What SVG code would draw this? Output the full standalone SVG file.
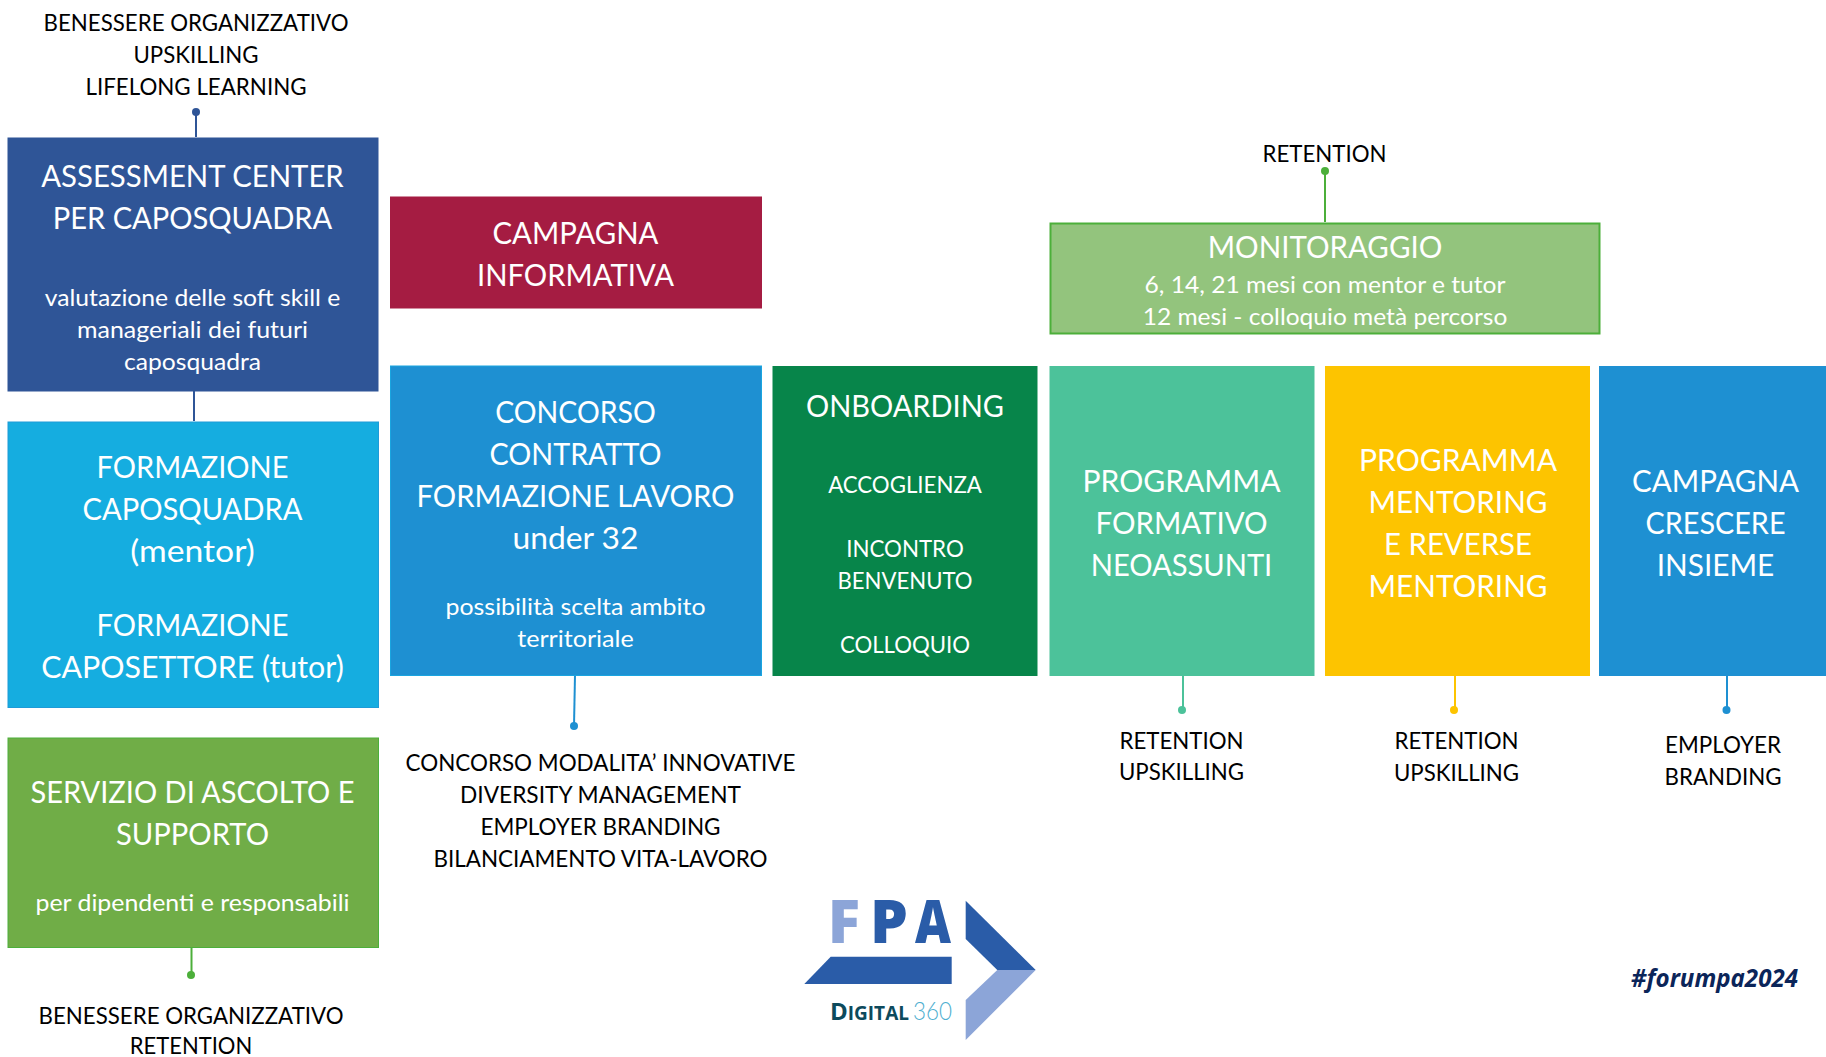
<svg xmlns="http://www.w3.org/2000/svg" width="1826" height="1057" viewBox="0 0 1826 1057">
<style>
text{font-family:Lato,"Open Sans","Liberation Sans",sans-serif;text-anchor:middle}
.h{font-size:30px;fill:#fff}
.s{font-size:24px;fill:#fff}
.k{font-size:24px;fill:#000}
.line{fill:none;stroke-width:2}
.logo{font-family:"Open Sans",sans-serif;font-weight:800;font-size:60px}
</style>
<rect width="1826" height="1057" fill="#fff"/>
<g id="connectors">
<path class="line" stroke="#2F5597" d="M196 112V137M194 391V421"/><circle cx="196" cy="112" r="4" fill="#2F5597"/>
<path class="line" stroke="#4CAF3A" d="M1325 171V222"/><circle cx="1325" cy="171" r="4" fill="#4CAF3A"/>
<path class="line" stroke="#1E90D2" d="M575 675L574 726"/><circle cx="574" cy="726" r="4" fill="#1E90D2"/>
<path class="line" stroke="#4CC29A" d="M1183 675V710"/><circle cx="1182" cy="710" r="4" fill="#4CC29A"/>
<path class="line" stroke="#FDC400" d="M1455 675V710"/><circle cx="1454" cy="710" r="4" fill="#FDC400"/>
<path class="line" stroke="#1E90D2" d="M1727 675V710"/><circle cx="1726.500" cy="710" r="4" fill="#1E90D2"/>
<path class="line" stroke="#4CAF3A" d="M191.500 948V975"/><circle cx="191" cy="975" r="4" fill="#4CAF3A"/>
</g>
<g id="note-top"><text class="k" x="196" y="31" textLength="305" lengthAdjust="spacingAndGlyphs">BENESSERE ORGANIZZATIVO</text><text class="k" x="196" y="63" textLength="125" lengthAdjust="spacingAndGlyphs">UPSKILLING</text><text class="k" x="196" y="95" textLength="221" lengthAdjust="spacingAndGlyphs">LIFELONG LEARNING</text></g>
<g id="assessment"><rect x="7.500" y="137.500" width="371" height="254" fill="#2F5597"/>
<text class="h" x="192.500" y="186.500" textLength="302.500" lengthAdjust="spacingAndGlyphs">ASSESSMENT CENTER</text><text class="h" x="192.500" y="228.500" textLength="279.600" lengthAdjust="spacingAndGlyphs">PER CAPOSQUADRA</text>
<text class="s" x="192.500" y="306" textLength="295.500" lengthAdjust="spacingAndGlyphs">valutazione delle soft skill e</text><text class="s" x="192.500" y="338" textLength="231" lengthAdjust="spacingAndGlyphs">manageriali dei futuri</text><text class="s" x="192.500" y="370" textLength="137" lengthAdjust="spacingAndGlyphs">caposquadra</text></g>
<g id="formazione"><rect x="8" y="422" width="370.500" height="285.500" fill="#15ADE0" stroke="#1E9BD8"/>
<text class="h" x="192.500" y="477.500" textLength="192" lengthAdjust="spacingAndGlyphs">FORMAZIONE</text><text class="h" x="192.500" y="519.500" textLength="220" lengthAdjust="spacingAndGlyphs">CAPOSQUADRA</text><text class="h" x="192.500" y="561.500" textLength="124.600" lengthAdjust="spacingAndGlyphs">(mentor)</text><text class="h" x="192.500" y="635.500" textLength="192" lengthAdjust="spacingAndGlyphs">FORMAZIONE</text><text class="h" x="192.500" y="677.500" textLength="302.500" lengthAdjust="spacingAndGlyphs">CAPOSETTORE (tutor)</text></g>
<g id="servizio"><rect x="8" y="738" width="370.500" height="209.500" fill="#70AD47" stroke="#4CAF3A"/>
<text class="h" x="192.500" y="803" textLength="324" lengthAdjust="spacingAndGlyphs">SERVIZIO DI ASCOLTO E</text><text class="h" x="192.500" y="845" textLength="153" lengthAdjust="spacingAndGlyphs">SUPPORTO</text><text class="s" x="192.500" y="911" textLength="314" lengthAdjust="spacingAndGlyphs">per dipendenti e responsabili</text></g>
<g id="note-servizio"><text class="k" x="191" y="1023.500" textLength="305" lengthAdjust="spacingAndGlyphs">BENESSERE ORGANIZZATIVO</text><text class="k" x="191" y="1054" textLength="122.500" lengthAdjust="spacingAndGlyphs">RETENTION</text></g>
<g id="campagna-informativa"><rect x="390" y="196.500" width="372" height="112" fill="#A51C42"/>
<text class="h" x="575.500" y="244" textLength="166" lengthAdjust="spacingAndGlyphs">CAMPAGNA</text><text class="h" x="575.500" y="286" textLength="197" lengthAdjust="spacingAndGlyphs">INFORMATIVA</text></g>
<g id="concorso"><rect x="390.500" y="366" width="371" height="309.500" fill="#1E90D2" stroke="#1AA5E0"/>
<text class="h" x="575.500" y="423" textLength="160.700" lengthAdjust="spacingAndGlyphs">CONCORSO</text><text class="h" x="575.500" y="465" textLength="172" lengthAdjust="spacingAndGlyphs">CONTRATTO</text><text class="h" x="575.500" y="507" textLength="318" lengthAdjust="spacingAndGlyphs">FORMAZIONE LAVORO</text><text class="h" x="575.500" y="548.500" textLength="126" lengthAdjust="spacingAndGlyphs">under 32</text>
<text class="s" x="575.500" y="614.500" textLength="260" lengthAdjust="spacingAndGlyphs">possibilità scelta ambito</text><text class="s" x="575.500" y="646.500" textLength="116.500" lengthAdjust="spacingAndGlyphs">territoriale</text></g>
<g id="note-concorso"><text class="k" x="600.500" y="771" textLength="390" lengthAdjust="spacingAndGlyphs">CONCORSO MODALITA’ INNOVATIVE</text><text class="k" x="600.500" y="803" textLength="281" lengthAdjust="spacingAndGlyphs">DIVERSITY MANAGEMENT</text><text class="k" x="600.500" y="835" textLength="240" lengthAdjust="spacingAndGlyphs">EMPLOYER BRANDING</text><text class="k" x="600.500" y="867" textLength="334" lengthAdjust="spacingAndGlyphs">BILANCIAMENTO VITA-LAVORO</text></g>
<g id="onboarding"><rect x="772.500" y="366" width="265" height="310" fill="#07854A"/>
<text class="h" x="905" y="416.500" textLength="198" lengthAdjust="spacingAndGlyphs">ONBOARDING</text><text class="s" x="905" y="492.500" textLength="153.700" lengthAdjust="spacingAndGlyphs">ACCOGLIENZA</text><text class="s" x="905" y="556.500" textLength="117.600" lengthAdjust="spacingAndGlyphs">INCONTRO</text><text class="s" x="905" y="588.500" textLength="135" lengthAdjust="spacingAndGlyphs">BENVENUTO</text><text class="s" x="905" y="652.500" textLength="130" lengthAdjust="spacingAndGlyphs">COLLOQUIO</text></g>
<g id="programma-formativo"><rect x="1049.500" y="366" width="265" height="310" fill="#4CC29A"/>
<text class="h" x="1181.500" y="491.500" textLength="198" lengthAdjust="spacingAndGlyphs">PROGRAMMA</text><text class="h" x="1181.500" y="533.500" textLength="172" lengthAdjust="spacingAndGlyphs">FORMATIVO</text><text class="h" x="1181.500" y="575.500" textLength="181.600" lengthAdjust="spacingAndGlyphs">NEOASSUNTI</text></g>
<g id="note-formativo"><text class="k" x="1181.500" y="748.500" textLength="124" lengthAdjust="spacingAndGlyphs">RETENTION</text><text class="k" x="1181.500" y="780" textLength="125" lengthAdjust="spacingAndGlyphs">UPSKILLING</text></g>
<g id="programma-mentoring"><rect x="1325" y="366" width="265" height="310" fill="#FDC400"/>
<text class="h" x="1458" y="470.500" textLength="198" lengthAdjust="spacingAndGlyphs">PROGRAMMA</text><text class="h" x="1458" y="512.500" textLength="179" lengthAdjust="spacingAndGlyphs">MENTORING</text><text class="h" x="1458" y="554.500" textLength="148" lengthAdjust="spacingAndGlyphs">E REVERSE</text><text class="h" x="1458" y="596.500" textLength="179" lengthAdjust="spacingAndGlyphs">MENTORING</text></g>
<g id="note-mentoring"><text class="k" x="1456.500" y="749" textLength="124" lengthAdjust="spacingAndGlyphs">RETENTION</text><text class="k" x="1456.500" y="781" textLength="125" lengthAdjust="spacingAndGlyphs">UPSKILLING</text></g>
<g id="campagna-crescere"><rect x="1599" y="366" width="227" height="310" fill="#1E90D2"/>
<text class="h" x="1715.500" y="491.500" textLength="167" lengthAdjust="spacingAndGlyphs">CAMPAGNA</text><text class="h" x="1715.500" y="533.500" textLength="140" lengthAdjust="spacingAndGlyphs">CRESCERE</text><text class="h" x="1715.500" y="575.500" textLength="117.600" lengthAdjust="spacingAndGlyphs">INSIEME</text></g>
<g id="note-crescere"><text class="k" x="1723" y="752.500" textLength="116" lengthAdjust="spacingAndGlyphs">EMPLOYER</text><text class="k" x="1723" y="785" textLength="117" lengthAdjust="spacingAndGlyphs">BRANDING</text></g>
<g id="monitoraggio"><rect x="1050.500" y="223.500" width="549" height="110" fill="#93C47D" stroke="#4CAF3A" stroke-width="2"/>
<text class="h" x="1325" y="258" textLength="234.500" lengthAdjust="spacingAndGlyphs">MONITORAGGIO</text><text class="s" x="1325" y="293" textLength="361" lengthAdjust="spacingAndGlyphs">6, 14, 21 mesi con mentor e tutor</text><text class="s" x="1325" y="325" textLength="364.600" lengthAdjust="spacingAndGlyphs">12 mesi - colloquio metà percorso</text></g>
<g id="note-monitoraggio"><text class="k" x="1324.500" y="162" textLength="124" lengthAdjust="spacingAndGlyphs">RETENTION</text></g>
<g id="logo">
<polygon points="965.700,900.700 1035.700,970 997.300,970 965.700,939" fill="#2A5CA8"/>
<polygon points="997.300,970 1035.700,970 965.700,1040 965.700,1000" fill="#8CA5D8"/>
<polygon points="804.300,984 830.700,956.700 951.700,956.700 951.700,984" fill="#2A5CA8"/>
<text class="logo" x="844" y="942.700" fill="#8CA5D8">F</text>
<text class="logo" x="889" y="942.700" fill="#2A5CA8">P</text>
<text class="logo" x="933" y="942.700" fill="#2A5CA8" textLength="36" lengthAdjust="spacingAndGlyphs">A</text>
<text x="830" y="1020" textLength="79" lengthAdjust="spacingAndGlyphs" style="text-anchor:start;font-family:'Open Sans',sans-serif;font-weight:700;font-size:24px;fill:#0D4A5C">D<tspan font-size="19">IGITAL</tspan></text>
<text x="913" y="1020" textLength="39" lengthAdjust="spacingAndGlyphs" style="text-anchor:start;font-family:Lato,sans-serif;font-weight:300;font-size:25px;fill:#4FAFD0">360</text>
</g>
<text id="hashtag" x="1714.500" y="987" textLength="167" lengthAdjust="spacingAndGlyphs" style="font-family:'Open Sans',sans-serif;font-weight:700;font-style:italic;font-size:25px;fill:#0B2559">#forumpa2024</text>
</svg>
